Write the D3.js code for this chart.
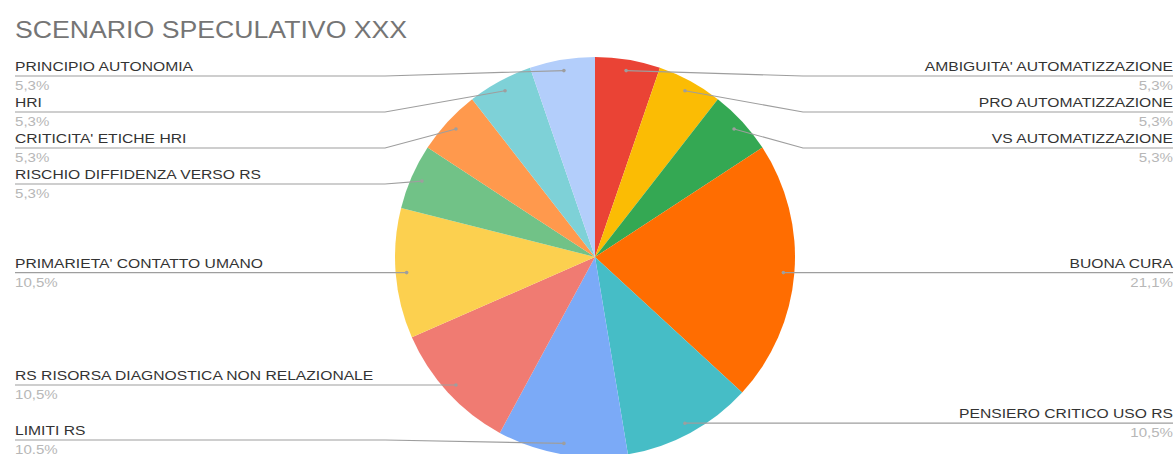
<!DOCTYPE html>
<html lang="it">
<head>
    <meta charset="UTF-8">
    <title>Scenario speculativo XXX</title>
    <script src="https://d3js.org/d3.v7.min.js"></script>
    <style>
        body { margin: 0; background: #fff; }
        text { font-family: "Liberation Sans", Arial, sans-serif; }
    </style>
</head>
<body>
    <div id="chart"></div>

<script>
    // categories (clockwise from 12 o'clock) and counts
    var categories = [
        "AMBIGUITA' AUTOMATIZZAZIONE",
        "PRO AUTOMATIZZAZIONE",
        "VS AUTOMATIZZAZIONE",
        "BUONA CURA",
        "PENSIERO CRITICO USO RS",
        "LIMITI RS",
        "RS RISORSA DIAGNOSTICA NON RELAZIONALE",
        "PRIMARIETA' CONTATTO UMANO",
        "RISCHIO DIFFIDENZA VERSO RS",
        "CRITICITA' ETICHE HRI",
        "HRI",
        "PRINCIPIO AUTONOMIA"
    ];
    var values = [1, 1, 1, 4, 2, 2, 2, 2, 1, 1, 1, 1];
    var colors = ["#ea4335", "#fbbc04", "#34a853", "#ff6d01", "#46bdc6", "#7baaf7",
                  "#f07b72", "#fcd04f", "#71c287", "#ff994d", "#7ed1d7", "#b3cefb"];
    var title = "SCENARIO SPECULATIVO XXX";

    var W = 1176, H = 454;
    var cx = 595, cy = 257, r = 200;
    var stretch = 1.16; // the original text is a bit wider than Arial

    var svg = d3.select("#chart").append("svg")
        .attr("width", W)
        .attr("height", H);

    function addText(sel, x, y, anchor) {
        return sel.append("text")
            .attr("transform", "translate(" + x + "," + y + ") scale(" + stretch + ",1)")
            .attr("text-anchor", anchor);
    }

    addText(svg, 15, 38, "start")
        .style("font-size", "23px")
        .attr("fill", "#757575")
        .text(title);

    var data = categories.map(function(c, i) {
        return { name: c, value: values[i], color: colors[i] };
    });
    var total = d3.sum(values);

    var pie = d3.pie().sort(null).value(function(d) { return d.value; });
    var arcs = pie(data);
    var arc = d3.arc().innerRadius(0).outerRadius(r);

    var g = svg.append("g").attr("transform", "translate(" + cx + "," + cy + ")");

    g.selectAll("path")
        .data(arcs)
        .enter()
        .append("path")
        .attr("d", arc)
        .attr("fill", function(d) { return d.data.color; });

    // label layout: anchor point inside the slice, then push labels apart
    var labels = arcs.map(function(d) {
        var mid = (d.startAngle + d.endAngle) / 2;
        var px = Math.sin(mid) * r * 0.945;
        var py = -Math.cos(mid) * r * 0.945;
        return {
            name: d.data.name,
            pct: d3.format(".1f")(d.data.value / total * 100).replace(".", ",") + "%",
            px: cx + px,
            py: cy + py,
            side: px >= 0 ? "right" : "left"
        };
    });

    var minY = 76, maxY = 440, gap = 36;
    ["left", "right"].forEach(function(side) {
        var list = labels.filter(function(l) { return l.side === side; })
            .sort(function(a, b) { return a.py - b.py; });
        list.forEach(function(l, i) {
            l.ly = Math.max(minY, Math.min(maxY, l.py));
            if (i > 0) l.ly = Math.max(l.ly, list[i - 1].ly + gap);
        });
        for (var i = list.length - 2; i >= 0; i--) {
            list[i].ly = Math.min(list[i].ly, list[i + 1].ly - gap);
        }
    });

    var lg = svg.append("g");
    labels.forEach(function(l) {
        var left = l.side === "left";
        var elbowX = left ? cx - r - 10 : cx + r + 8;
        var endX = left ? 15 : 1173;
        var tx = left ? 15 : 1173;
        var anchor = left ? "start" : "end";
        lg.append("polyline")
            .attr("points", [[endX, l.ly], [elbowX, l.ly], [l.px, l.py]].map(function(p) { return p.join(","); }).join(" "))
            .attr("fill", "none")
            .attr("stroke", "#9e9e9e")
            .attr("stroke-width", 1.2);
        lg.append("circle")
            .attr("cx", l.px)
            .attr("cy", l.py)
            .attr("r", 1.8)
            .attr("fill", "#9e9e9e");
        addText(lg, tx, l.ly - 5, anchor)
            .style("font-size", "13.5px")
            .attr("fill", "#333")
            .text(l.name);
        addText(lg, tx, l.ly + 14, anchor)
            .style("font-size", "13px")
            .attr("fill", "#b7b7b7")
            .text(l.pct);
    });
</script>
</body>
</html>
